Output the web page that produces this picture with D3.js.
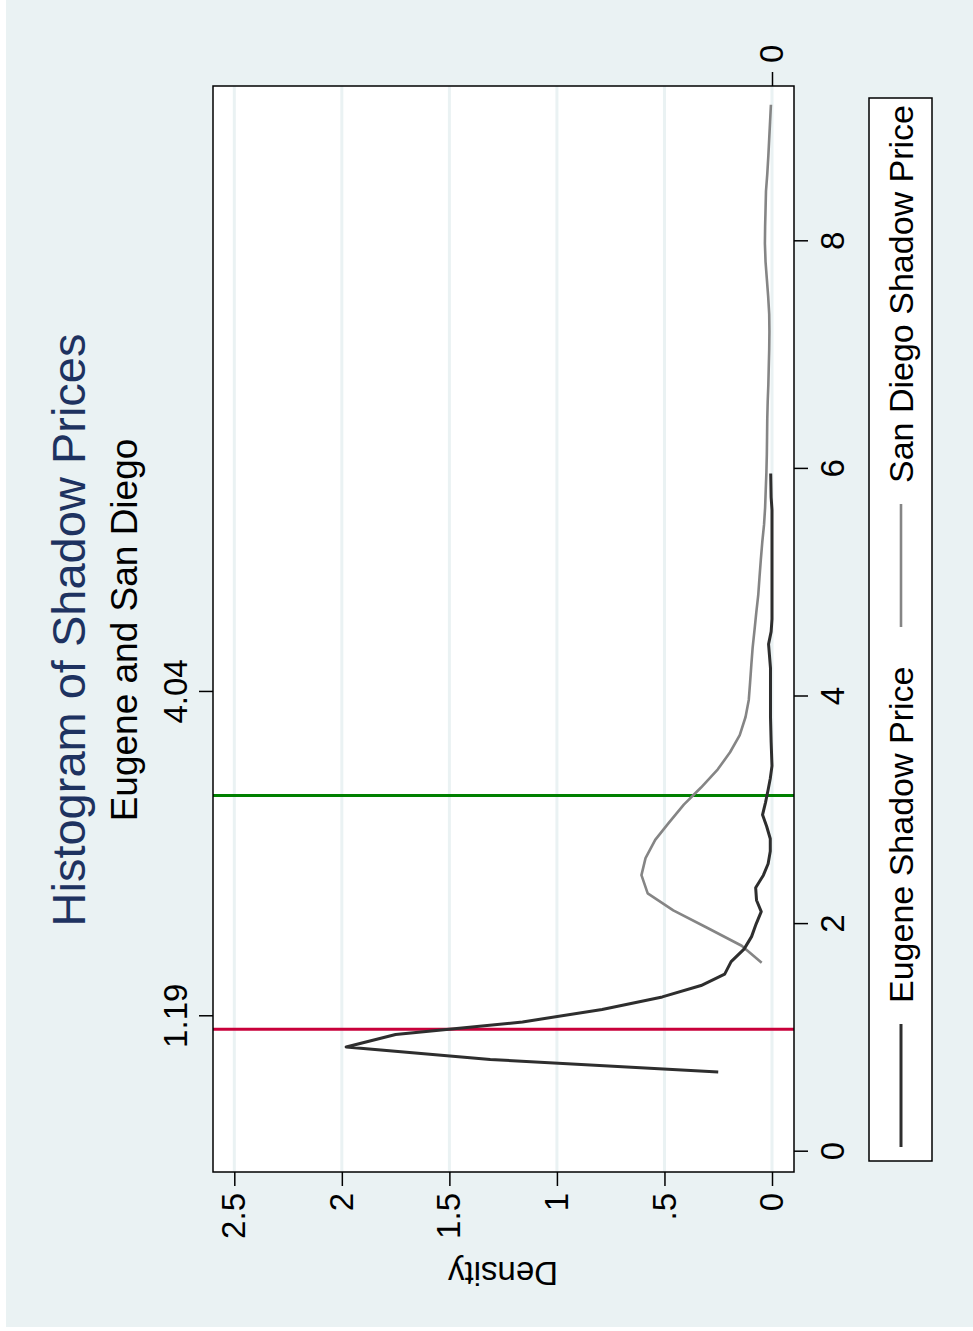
<!DOCTYPE html>
<html>
<head>
<meta charset="utf-8">
<script src="https://cdn.jsdelivr.net/npm/d3@7"></script>
<style>
  body { margin: 0; background: #ffffff; }
  text { font-family: "Liberation Sans", Arial, Helvetica, sans-serif; fill: #000; }
  .title { fill: #1e3260; }
</style>
</head>
<body>
<svg width="973" height="1331"></svg>
<script>
//data (shadow price, density)
const eugeneX = [0.70, 0.81, 0.92, 1.03, 1.14, 1.25, 1.36, 1.46, 1.56, 1.67, 1.78, 1.89, 2.00, 2.11, 2.21, 2.32, 2.43, 2.53, 2.64, 2.75, 2.86, 2.96, 3.07, 3.18, 3.28, 3.39, 3.60, 3.82, 4.03, 4.25, 4.46, 4.57, 4.68, 5.00, 5.32, 5.64, 5.75, 5.96];
const eugeneY = [0.25, 1.31, 1.98, 1.75, 1.16, 0.79, 0.51, 0.33, 0.22, 0.19, 0.13, 0.095, 0.074, 0.05, 0.072, 0.076, 0.04, 0.018, 0.008, 0.008, 0.025, 0.044, 0.03, 0.018, 0.008, 0.0, 0.004, 0.007, 0.007, 0.007, 0.016, 0.004, 0.0, 0.0, 0.0, 0.0, 0.004, 0.006];

const sandiegoX = [1.66, 1.81, 1.97, 2.12, 2.27, 2.43, 2.58, 2.74, 2.89, 3.05, 3.20, 3.36, 3.51, 3.66, 3.82, 3.97, 4.12, 4.28, 4.43, 4.59, 4.74, 4.89, 5.05, 5.20, 5.36, 5.51, 5.66, 5.82, 5.97, 6.13, 6.28, 6.44, 6.59, 6.74, 6.90, 7.05, 7.21, 7.36, 7.52, 7.67, 7.82, 7.98, 8.13, 8.28, 8.44, 8.59, 8.75, 8.90, 9.05, 9.20];
const sandiegoY = [0.048, 0.141, 0.304, 0.459, 0.578, 0.607, 0.588, 0.543, 0.48, 0.41, 0.33, 0.252, 0.195, 0.15, 0.123, 0.108, 0.102, 0.096, 0.09, 0.081, 0.073, 0.064, 0.058, 0.052, 0.045, 0.037, 0.032, 0.029, 0.026, 0.024, 0.023, 0.022, 0.02, 0.017, 0.015, 0.013, 0.012, 0.013, 0.018, 0.024, 0.03, 0.033, 0.032, 0.03, 0.028, 0.022, 0.017, 0.013, 0.009, 0.005];

const xTicks = [0, 2, 4, 6, 8];
const yTicks = [0, 0.5, 1, 1.5, 2, 2.5];
const yTickLabels = ['0', '.5', '1', '1.5', '2', '2.5'];
const topTicks = [1.19, 4.04];
const refLines = [1.075, 3.13];
const refColors = ['#c8003a', '#008000'];
const seriesNames = ['Eugene Shadow Price', 'San Diego Shadow Price'];
const seriesColors = ['#2e2e2e', '#858585'];

const render = () => {

  const svg = d3.select('svg');

  //the whole graph is drawn landscape and then turned on its side
  const W = 1331, H = 973;
  const g = svg.append('g')
    .attr('transform', `translate(0, ${W}) rotate(-90)`);

  //background
  g.append('rect')
    .attr('x', 4).attr('y', 6)
    .attr('width', W - 4).attr('height', H - 6)
    .attr('fill', '#eaf2f3');

  //plot region
  const plot = {left: 159, right: 1245, top: 213, bottom: 794};

  const xScale = d3.scaleLinear()
    .domain([0, 8])
    .range([179.3, 1089.7]);

  const yScale = d3.scaleLinear()
    .domain([0, 2.5])
    .range([772, 234.3]);

  g.append('rect')
    .attr('x', plot.left).attr('y', plot.top)
    .attr('width', plot.right - plot.left)
    .attr('height', plot.bottom - plot.top)
    .attr('fill', '#fff');

  //grid lines
  g.selectAll('.grid')
    .data(yTicks)
    .enter().append('line')
      .attr('x1', plot.left).attr('x2', plot.right)
      .attr('y1', d => yScale(d)).attr('y2', d => yScale(d))
      .attr('stroke', '#eaf2f3')
      .attr('stroke-width', 3);

  //reference lines
  g.selectAll('.ref')
    .data(refLines)
    .enter().append('line')
      .attr('x1', d => xScale(d)).attr('x2', d => xScale(d))
      .attr('y1', plot.top).attr('y2', plot.bottom)
      .attr('stroke', (d, i) => refColors[i])
      .attr('stroke-width', 3);

  //density lines
  const line = d3.line()
    .x(d => xScale(d[0]))
    .y(d => yScale(d[1]));

  const eugene = eugeneX.map((x, i) => [x, eugeneY[i]]);
  const sandiego = sandiegoX.map((x, i) => [x, sandiegoY[i]]);

  g.append('path')
    .datum(sandiego)
    .attr('d', line)
    .attr('fill', 'none')
    .attr('stroke', seriesColors[1])
    .attr('stroke-width', 2.6)
    .attr('stroke-linejoin', 'round');

  g.append('path')
    .datum(eugene)
    .attr('d', line)
    .attr('fill', 'none')
    .attr('stroke', seriesColors[0])
    .attr('stroke-width', 3)
    .attr('stroke-linejoin', 'round');

  //plot border
  g.append('rect')
    .attr('x', plot.left).attr('y', plot.top)
    .attr('width', plot.right - plot.left)
    .attr('height', plot.bottom - plot.top)
    .attr('fill', 'none')
    .attr('stroke', '#000')
    .attr('stroke-width', 1.5);

  const fs = 33;

  //left axis (density)
  const yAxis = g.append('g')
    .attr('transform', `translate(${plot.left}, 0)`)
    .call(d3.axisLeft(yScale).tickValues(yTicks).tickSize(14).tickPadding(7)
      .tickFormat((d, i) => yTickLabels[i]));
  yAxis.select('.domain').remove();

  //right axis, only the zero
  const yAxis2 = g.append('g')
    .attr('transform', `translate(${plot.right}, 0)`)
    .call(d3.axisRight(yScale).tickValues([0]).tickSize(14).tickPadding(9)
      .tickFormat(d3.format('d')));
  yAxis2.select('.domain').remove();

  //bottom axis
  const xAxis = g.append('g')
    .attr('transform', `translate(0, ${plot.bottom})`)
    .call(d3.axisBottom(xScale).tickValues(xTicks).tickSize(14).tickPadding(13)
      .tickFormat(d3.format('d')));
  xAxis.select('.domain').remove();

  //top axis with the two marked values
  const xAxis2 = g.append('g')
    .attr('transform', `translate(0, ${plot.top})`)
    .call(d3.axisTop(xScale).tickValues(topTicks).tickSize(14).tickPadding(12)
      .tickFormat(d3.format('.2f')));
  xAxis2.select('.domain').remove();

  g.selectAll('.tick line').attr('stroke', '#000').attr('stroke-width', 1.5);
  g.selectAll('.tick text')
    .attr('font-size', fs)
    .attr('font-family', '"Liberation Sans", Arial, sans-serif')
    .attr('fill', '#000');

  //axis title
  g.append('text')
    .attr('transform', `translate(69, ${(plot.top + plot.bottom) / 2 - 0.5}) rotate(-90)`)
    .attr('text-anchor', 'middle')
    .attr('font-size', fs)
    .text('Density');

  //titles
  g.append('text')
    .attr('class', 'title')
    .attr('x', 701).attr('y', 85)
    .attr('text-anchor', 'middle')
    .attr('font-size', 47)
    .text('Histogram of Shadow Prices');

  g.append('text')
    .attr('x', 701).attr('y', 137)
    .attr('text-anchor', 'middle')
    .attr('font-size', 37)
    .text('Eugene and San Diego');

  //legend
  const legend = g.append('g');
  legend.append('rect')
    .attr('x', 170).attr('y', 869)
    .attr('width', 1063).attr('height', 63)
    .attr('fill', '#fff')
    .attr('stroke', '#000')
    .attr('stroke-width', 1.5);

  const legendX = [184, 704];
  seriesNames.forEach((name, i) => {
    legend.append('line')
      .attr('x1', legendX[i]).attr('x2', legendX[i] + 123)
      .attr('y1', 901).attr('y2', 901)
      .attr('stroke', seriesColors[i])
      .attr('stroke-width', i === 0 ? 3 : 2.6);
    legend.append('text')
      .attr('x', legendX[i] + 144).attr('y', 913)
      .attr('font-size', 34)
      .text(name);
  });
}

render();
</script>
</body>
</html>
